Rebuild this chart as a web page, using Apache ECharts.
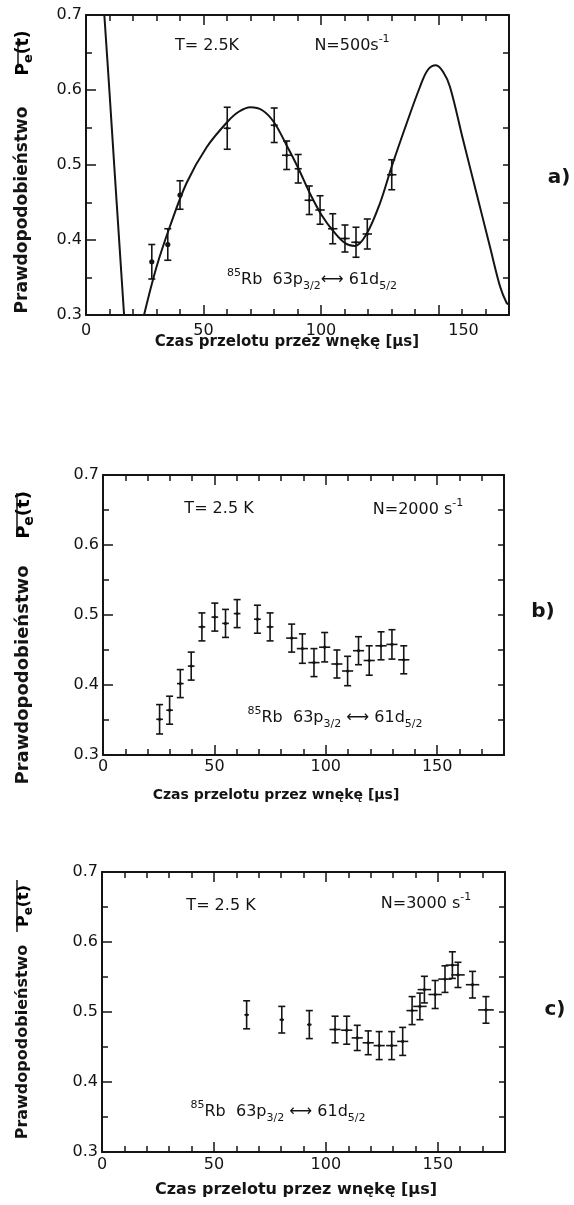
<!DOCTYPE html>
<html>
<head>
<meta charset="utf-8">
<script src="https://cdn.jsdelivr.net/npm/echarts@6/dist/echarts.min.js"></script>
<style>
html,body{margin:0;padding:0;background:#fff;}
#chart{width:574px;height:1205px;}
</style>
</head>
<body>
<div id="chart"></div>
<script>
// ---------- DATA ----------
const xTickLabels = [0, 50, 100, 150];
const yTickLabels = [0.3, 0.4, 0.5, 0.6, 0.7];

// Panel a) N = 500 s^-1 : measured points
const aTime = [28, 34.8, 40, 60.1, 80.1, 85.4, 90.3, 95, 99.6, 105, 110.2, 114.9, 119.7, 130.1];
const aProb = [0.371, 0.394, 0.46, 0.549, 0.553, 0.513, 0.495, 0.453, 0.44, 0.415, 0.402, 0.397, 0.408, 0.487];
const aErr  = [0.023, 0.021, 0.019, 0.028, 0.023, 0.019, 0.019, 0.019, 0.019, 0.02, 0.018, 0.02, 0.02, 0.02];
const aTErr = [0, 0, 0, 1.5, 1.5, 2, 1.5, 2, 2, 2, 2, 2, 2, 2];
const aDot  = [1, 1, 1, 0, 0, 0, 0, 0, 0, 0, 0, 0, 0, 0];
// Panel a) theoretical curve (read from picture), two visible pieces
const aCurveLeft = [[7.8, 0.7], [10, 0.597], [12, 0.5], [14.1, 0.4], [16.2, 0.3]];
const aCurveMain = [[24.7, 0.3], [30, 0.364], [35.7, 0.418], [42.8, 0.476], [51.4, 0.524], [60.3, 0.558],
  [65, 0.571], [70, 0.577], [75, 0.573], [80, 0.557], [85.4, 0.526], [90.3, 0.496], [95.3, 0.462],
  [100.3, 0.433], [105.2, 0.412], [110.2, 0.396], [114.5, 0.392], [119.4, 0.408], [125.1, 0.449],
  [130.1, 0.498], [136.5, 0.556], [142.1, 0.604], [145.5, 0.627], [148.9, 0.633], [152, 0.624],
  [154.9, 0.604], [160.5, 0.533], [166.2, 0.462], [171.9, 0.391], [176.2, 0.338], [179, 0.316], [180, 0.314]];

// Panel b) N = 2000 s^-1
const bTime = [25.4, 29.9, 34.7, 39.6, 44.4, 50.2, 55, 60.2, 69.3, 75, 84.7, 89.5, 94.7, 99.5, 105, 109.8, 114.7, 119.5, 124.8, 129.7, 135];
const bProb = [0.351, 0.364, 0.402, 0.427, 0.483, 0.497, 0.488, 0.502, 0.494, 0.483, 0.467, 0.452, 0.432, 0.454, 0.43, 0.42, 0.449, 0.435, 0.456, 0.458, 0.436];
const bErr  = [0.021, 0.02, 0.02, 0.02, 0.02, 0.02, 0.02, 0.02, 0.02, 0.02, 0.02, 0.021, 0.02, 0.021, 0.02, 0.021, 0.02, 0.021, 0.02, 0.021, 0.02];
const bTErr = [1.5, 1.5, 1.5, 1.5, 1.5, 1.5, 1.5, 1.5, 1.5, 1.5, 2.5, 2.5, 2.5, 2.5, 2.5, 2.5, 2.5, 2.5, 2.5, 2.5, 2.5];

// Panel c) N = 3000 s^-1
const cTime = [64.6, 80.3, 92.6, 104.1, 109.3, 114, 118.9, 123.8, 129.4, 134.3, 138.5, 142, 144, 148.8, 153.2, 156.5, 159, 165.5, 171.5];
const cProb = [0.496, 0.489, 0.482, 0.475, 0.474, 0.463, 0.456, 0.452, 0.452, 0.458, 0.502, 0.508, 0.532, 0.525, 0.547, 0.567, 0.553, 0.539, 0.503];
const cErr  = [0.02, 0.019, 0.02, 0.019, 0.02, 0.018, 0.017, 0.02, 0.02, 0.02, 0.02, 0.019, 0.019, 0.02, 0.019, 0.019, 0.018, 0.019, 0.019];
const cTErr = [1, 1, 1, 2.5, 2.5, 2.5, 2.5, 2.5, 2.5, 2.5, 2.5, 3, 3, 3, 3, 3, 3, 3, 3.5];

// ---------- CHART ----------
const INK = '#141414';
const FONT = 'DejaVu Sans';

const panels = [
  {grid: {left: 86, top: 15, width: 423, height: 300}, xMargin: 8, shift150: true},
  {grid: {left: 103, top: 475, width: 401, height: 280}, xMargin: 4, shift150: false},
  {grid: {left: 102, top: 872, width: 403, height: 280}, xMargin: 5, shift150: false}
];

const grids = [], xAxes = [], yAxes = [], series = [];

function axisBase(extra) {
  return Object.assign({
    type: 'value', splitLine: {show: false},
    axisLine: {show: true, onZero: false, lineStyle: {color: INK, width: 2}},
    axisTick: {show: true, inside: true, length: 6, lineStyle: {color: INK, width: 1.5}},
    axisLabel: {show: false}
  }, extra);
}

panels.forEach((p, gi) => {
  grids.push(Object.assign({containLabel: false}, p.grid));
  const xi = xAxes.length;
  const xLab = {
    show: true, margin: p.xMargin, fontSize: 16, fontFamily: FONT, color: INK, showMaxLabel: false,
    formatter: v => {
      if (xTickLabels.indexOf(v) < 0) return '';
      if (p.shift150 && v === 150) return '{s|150}';
      return String(v);
    },
    rich: {s: {fontSize: 16, fontFamily: FONT, color: INK, padding: [0, 0, 0, 50]}}
  };
  xAxes.push(axisBase({gridIndex: gi, min: 0, max: 180, interval: 10, position: 'bottom', axisLabel: xLab}));
  xAxes.push(axisBase({gridIndex: gi, min: 0, max: 180, interval: 10, position: 'top'}));
  xAxes.push(axisBase({gridIndex: gi, min: 0, max: 180, interval: 50, position: 'bottom', axisLine: {show: false}, axisTick: {show: true, inside: true, length: 10, lineStyle: {color: INK, width: 1.5}}}));
  xAxes.push(axisBase({gridIndex: gi, min: 0, max: 180, interval: 50, position: 'top', axisLine: {show: false}, axisTick: {show: true, inside: true, length: 10, lineStyle: {color: INK, width: 1.5}}}));
  const yi = yAxes.length;
  const yLab = {
    show: true, margin: 4, fontSize: 16, fontFamily: FONT, color: INK,
    formatter: v => {
      const k = Math.round(v * 100);
      return (k % 10 === 0 && yTickLabels.indexOf(k / 100) >= 0) ? (k / 100).toFixed(1) : '';
    }
  };
  yAxes.push(axisBase({gridIndex: gi, min: 0.3, max: 0.7, interval: 0.05, position: 'left', axisLabel: yLab}));
  yAxes.push(axisBase({gridIndex: gi, min: 0.3, max: 0.7, interval: 0.05, position: 'right'}));
  yAxes.push(axisBase({gridIndex: gi, min: 0.3, max: 0.7, interval: 0.1, position: 'left', axisLine: {show: false}, axisTick: {show: true, inside: true, length: 10, lineStyle: {color: INK, width: 1.5}}}));
  p.xi = xi; p.yi = yi;
});

function errRender(params, api) {
  const t = api.value(0), v = api.value(1), e = api.value(2), xe = api.value(3), dot = api.value(4);
  const c = api.coord([t, v]);
  const top = api.coord([t, v + e]);
  const bot = api.coord([t, v - e]);
  const cap = 3.5;
  const st = {stroke: INK, lineWidth: 1.6};
  const children = [
    {type: 'line', shape: {x1: c[0], y1: top[1], x2: c[0], y2: bot[1]}, style: st},
    {type: 'line', shape: {x1: c[0] - cap, y1: top[1], x2: c[0] + cap, y2: top[1]}, style: st},
    {type: 'line', shape: {x1: c[0] - cap, y1: bot[1], x2: c[0] + cap, y2: bot[1]}, style: st}
  ];
  if (xe > 0) {
    const l = api.coord([t - xe, v]), r = api.coord([t + xe, v]);
    children.push({type: 'line', shape: {x1: l[0], y1: c[1], x2: r[0], y2: c[1]}, style: st});
  }
  children.push({type: 'circle', shape: {cx: c[0], cy: c[1], r: dot ? 2.6 : 1.6}, style: {fill: INK}});
  return {type: 'group', children: children};
}

function errSeries(p, time, prob, err, terr, dots) {
  return {
    type: 'custom', xAxisIndex: p.xi, yAxisIndex: p.yi, renderItem: errRender,
    encode: {x: 0, y: 1}, clip: false,
    data: time.map((t, i) => [t, prob[i], err[i], terr[i], dots ? dots[i] : 0])
  };
}

const lineStyle = {color: INK, width: 2};
series.push({type: 'line', xAxisIndex: panels[0].xi, yAxisIndex: panels[0].yi, data: aCurveLeft, showSymbol: false, smooth: 0.3, lineStyle: lineStyle, clip: true, silent: true});
series.push({type: 'line', xAxisIndex: panels[0].xi, yAxisIndex: panels[0].yi, data: aCurveMain, showSymbol: false, smooth: 0.35, lineStyle: lineStyle, clip: true, silent: true});
series.push(errSeries(panels[0], aTime, aProb, aErr, aTErr, aDot));
series.push(errSeries(panels[1], bTime, bProb, bErr, bTErr, null));
series.push(errSeries(panels[2], cTime, cProb, cErr, cTErr, null));

// ---------- TEXT ANNOTATIONS ----------
const txt = (x, y, text, size, weight, extra) => Object.assign({
  type: 'text', x: x, y: y, silent: true,
  style: {text: text, fontSize: size, fontFamily: FONT, fontWeight: weight || 'normal', fill: INK, align: 'center', verticalAlign: 'middle'}
}, extra || {});

const richBase = (size) => ({
  n: {fontSize: size, fontFamily: FONT, fill: INK, color: INK, lineHeight: size + 8, verticalAlign: 'middle'},
  sup: {fontSize: Math.round(size * 0.7), fontFamily: FONT, color: INK, lineHeight: size + 8, verticalAlign: 'top'},
  sub: {fontSize: Math.round(size * 0.7), fontFamily: FONT, color: INK, lineHeight: size + 8, verticalAlign: 'bottom'}
});

function richTxt(x, y, text, size, extra) {
  return Object.assign({
    type: 'text', x: x, y: y, silent: true,
    style: {text: text, fontSize: size, fontFamily: FONT, fill: INK, align: 'center', verticalAlign: 'middle', rich: richBase(size)}
  }, extra || {});
}

function yTitle(xc, yWord, yPe, size, olX, olY1, olY2) {
  return [
    txt(xc, yWord, 'Prawdopodobieństwo', size, 'bold', {rotation: Math.PI / 2}),
    {type: 'text', x: xc + 1, y: yPe, rotation: Math.PI / 2, silent: true,
      style: {text: '{p|P}{s|e}{p|(t)}', align: 'center', verticalAlign: 'middle',
        rich: {p: {fontSize: size, fontFamily: FONT, fontWeight: 'bold', color: INK, lineHeight: size + 6, verticalAlign: 'middle'},
               s: {fontSize: Math.round(size * 0.75), fontFamily: FONT, fontWeight: 'bold', color: INK, lineHeight: size + 6, verticalAlign: 'bottom'}}}},
    {type: 'line', silent: true, shape: {x1: olX, y1: olY1, x2: olX, y2: olY2}, style: {stroke: INK, lineWidth: 1.5}}
  ];
}

const graphic = [].concat(
  // panel a
  [txt(207, 46, 'T= 2.5K', 16),
   richTxt(352, 46, '{n|N=500s}{sup|-1}', 16),
   richTxt(312, 280, '{sup|85}{n|Rb  63p}{sub|3/2}{n|⟷ 61d}{sub|5/2}', 16),
   txt(287, 342, 'Czas przelotu przez wnękę [μs]', 15, 'bold'),
   txt(559, 178, 'a)', 20, 'bold')],
  yTitle(23, 210, 53, 17, 18, 38, 68),
  // panel b
  [txt(219, 509, 'T= 2.5 K', 16),
   richTxt(418, 510, '{n|N=2000 s}{sup|-1}', 16),
   richTxt(335, 718, '{sup|85}{n|Rb  63p}{sub|3/2}{n| ⟷ 61d}{sub|5/2}', 16),
   txt(276, 795, 'Czas przelotu przez wnękę [μs]', 14, 'bold'),
   txt(543, 612, 'b)', 20, 'bold')],
  yTitle(23, 675, 515, 18, 17, 493, 537),
  // panel c
  [txt(221, 906, 'T= 2.5 K', 16),
   richTxt(426, 904, '{n|N=3000 s}{sup|-1}', 16),
   richTxt(278, 1112, '{sup|85}{n|Rb  63p}{sub|3/2}{n| ⟷ 61d}{sub|5/2}', 16),
   txt(296, 1190, 'Czas przelotu przez wnękę [μs]', 16, 'bold'),
   txt(555, 1010, 'c)', 20, 'bold')],
  yTitle(23, 1042, 906, 16, 17, 880, 932)
);

const chart = echarts.init(document.getElementById('chart'), null, {renderer: 'canvas'});
chart.setOption({
  backgroundColor: '#ffffff',
  animation: false,
  grid: grids,
  xAxis: xAxes,
  yAxis: yAxes,
  series: series,
  graphic: graphic
});
</script>
</body>
</html>
